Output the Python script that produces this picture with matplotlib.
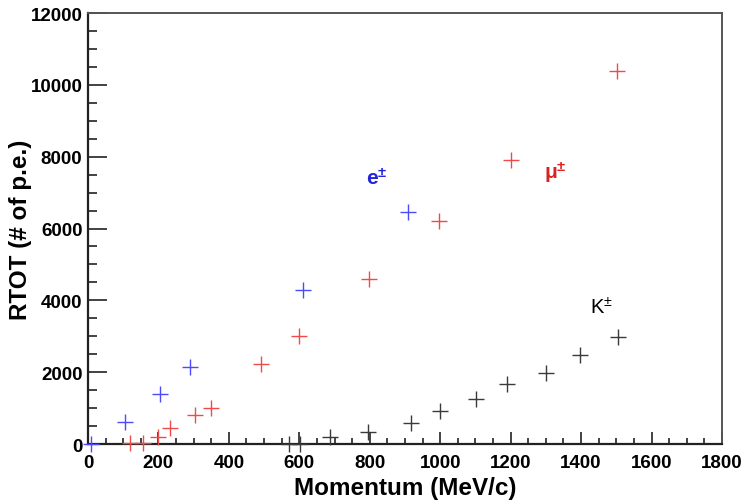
import matplotlib
matplotlib.use("Agg")
import matplotlib.pyplot as plt
from matplotlib.ticker import MultipleLocator

plt.rcParams['font.family'] = ['Liberation Sans', 'DejaVu Sans']
plt.rcParams['mathtext.fontset'] = 'custom'
plt.rcParams['mathtext.rm'] = 'Liberation Sans'
plt.rcParams['mathtext.bf'] = 'Liberation Sans:bold'

# Momentum (MeV/c) and RTOT (# of p.e.) per particle species
e_p = [10, 105, 205, 290, 610, 910]
e_rtot = [0, 620, 1390, 2140, 4300, 6460]

mu_p = [120, 157, 200, 232, 305, 350, 490, 598, 797, 998, 1200, 1503]
mu_rtot = [20, 20, 190, 440, 820, 1010, 2220, 3000, 4600, 6210, 7920, 10380]

k_p = [572, 602, 688, 795, 917, 999, 1101, 1189, 1300, 1397, 1506]
k_rtot = [10, 10, 190, 335, 586, 912, 1255, 1674, 1981, 2483, 2977]

fig = plt.figure(figsize=(7.48, 5.02), dpi=100)
ax = fig.add_axes([0.1176, 0.1135, 0.8476, 0.8586])

mk = dict(marker='+', linestyle='none', markersize=11, markeredgewidth=1.0,
          clip_on=False, zorder=3)
ax.plot(e_p, e_rtot, color='#4a4aff', **mk)
ax.plot(mu_p, mu_rtot, color='#ee4a4a', **mk)
ax.plot(k_p, k_rtot, color='#3a3a3a', **mk)

ax.text(820, 7420, r'$\mathbf{e^{\pm}}$', color='#2323e0', fontsize=15,
        ha='center', va='center')
ax.text(1326, 7590, r'$\mathbf{\mu^{\pm}}$', color='#dd2020', fontsize=15,
        ha='center', va='center')
ax.text(1459, 3820, r'$\mathrm{K^{\pm}}$', color='black', fontsize=14.5,
        ha='center', va='center')

ax.set_xlim(0, 1800)
ax.set_ylim(0, 12000)
ax.xaxis.set_major_locator(MultipleLocator(200))
ax.xaxis.set_minor_locator(MultipleLocator(50))
ax.yaxis.set_major_locator(MultipleLocator(2000))
ax.yaxis.set_minor_locator(MultipleLocator(500))

ax.tick_params(axis='both', which='both', direction='in', top=False, right=False,
               colors='#222222', width=1.2, labelsize=13.5)
ax.tick_params(axis='x', which='major', length=8.6, pad=7)
ax.tick_params(axis='x', which='minor', length=4.3)
ax.tick_params(axis='y', which='major', length=13.5, pad=4)
ax.tick_params(axis='y', which='minor', length=6.5)
for lab in ax.get_xticklabels() + ax.get_yticklabels():
    lab.set_fontweight('bold')
    lab.set_color('black')

for side in ['left', 'bottom']:
    ax.spines[side].set_linewidth(1.6)
    ax.spines[side].set_color('#222222')
for side in ['top', 'right']:
    ax.spines[side].set_linewidth(1.4)
    ax.spines[side].set_color('#555555')

ax.set_xlabel('Momentum (MeV/c)', fontsize=17.5, fontweight='bold', labelpad=4)
ax.set_ylabel('RTOT (# of p.e.)', fontsize=17.5, fontweight='bold')
ax.yaxis.set_label_coords(-0.088, 0.5)

fig.savefig('out.png', dpi=100)
